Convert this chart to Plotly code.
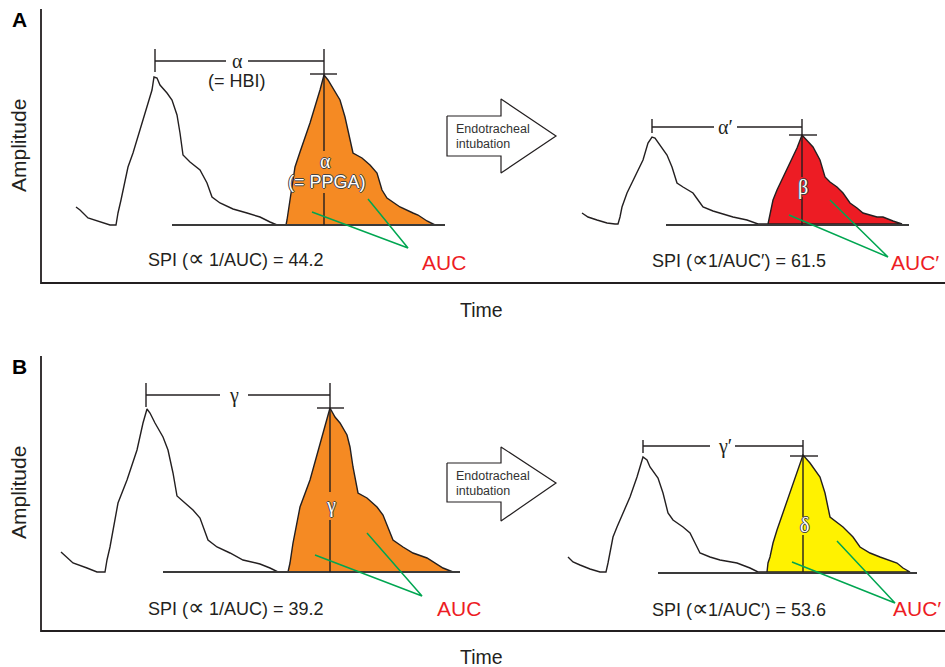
import plotly.graph_objects as go

# ---------------- data ----------------
# Panel A, before intubation: free pulse and filled pulse (time, amplitude in drawing units)
a_left_x = [76, 80, 88, 100, 110, 116, 118, 121, 128, 133, 143, 152, 154, 157, 160, 167, 172, 177, 180, 183,
            190, 200, 207, 212, 220, 233, 247, 260, 270, 277, 286]
a_left_y = [207, 210, 218, 222, 225, 225, 213, 200, 167, 153, 120, 90, 77, 78, 85, 93, 100, 115, 133, 155,
            162, 170, 183, 197, 203, 209, 213, 217, 222, 225, 225]
a_left_fx = [286, 287, 290, 295, 300, 310, 320, 324, 328, 333, 340, 345, 350, 353, 362, 370, 377, 382, 387,
             400, 413, 418, 427, 435]
a_left_fy = [225, 220, 200, 167, 152, 123, 90, 75, 80, 88, 100, 117, 140, 153, 158, 165, 173, 190, 198,
             207, 213, 215, 221, 225]

# Panel A, after intubation
a_right_x = [582, 588, 597, 607, 615, 618, 620, 622, 627, 630, 637, 643, 648, 652, 655, 660, 667, 672, 677,
             683, 693, 698, 703, 713, 720, 733, 747, 758, 768]
a_right_y = [213, 217, 220, 223, 224, 224, 217, 207, 193, 187, 173, 160, 143, 137, 138, 145, 155, 167, 183,
             187, 193, 200, 207, 211, 213, 217, 220, 224, 224]
a_right_fx = [768, 770, 773, 777, 783, 790, 797, 802, 808, 813, 820, 825, 830, 837, 843, 850, 857, 863, 877,
              883, 893, 902]
a_right_fy = [224, 213, 200, 190, 177, 163, 148, 135, 142, 147, 160, 177, 182, 187, 193, 203, 208, 213, 217,
              217, 221, 224]

# Panel B, before intubation
b_left_x = [61, 65, 73, 87, 97, 105, 107, 110, 115, 118, 127, 137, 143, 147, 150, 155, 163, 168, 173, 177,
            185, 193, 200, 208, 217, 230, 243, 260, 270, 278, 288]
b_left_y = [552, 556, 563, 568, 572, 572, 560, 547, 520, 503, 480, 450, 423, 409, 413, 423, 437, 450, 473, 496,
            503, 510, 518, 540, 547, 553, 560, 564, 568, 572, 572]
b_left_fx = [288, 290, 293, 297, 300, 310, 320, 330, 335, 340, 347, 350, 353, 358, 367, 377, 383, 388, 393,
             403, 413, 427, 433, 443, 453]
b_left_fy = [572, 563, 543, 520, 507, 480, 443, 408, 417, 423, 435, 447, 467, 493, 498, 507, 515, 527, 540,
             547, 553, 558, 562, 568, 572]

# Panel B, after intubation
b_right_x = [568, 573, 580, 590, 600, 606, 608, 610, 613, 617, 623, 630, 637, 643, 647, 650, 658, 663, 668,
             673, 683, 690, 695, 700, 710, 720, 737, 750, 758, 767]
b_right_y = [557, 562, 565, 569, 572, 572, 563, 553, 537, 527, 513, 497, 477, 457, 460, 467, 478, 493, 513,
             520, 527, 533, 543, 553, 557, 560, 563, 568, 572, 572]
b_right_fx = [767, 768, 770, 773, 777, 783, 790, 797, 803, 810, 820, 825, 830, 843, 853, 860, 870, 880, 897,
              903, 910]
b_right_fy = [572, 563, 557, 543, 530, 513, 493, 473, 455, 463, 477, 493, 517, 527, 537, 547, 553, 557, 563,
              568, 572]

spi_values = ["44.2", "61.5", "39.2", "53.6"]
interval_labels = ["α", "α′", "γ", "γ′"]
amplitude_labels = ["α", "β", "γ", "δ"]
fill_colors = ["#F58A23", "#ED1C24", "#F58A23", "#FFF200"]

# ---------------- styles ----------------
INK = "#231F20"
GREEN = "#00A651"
RED = "#ED1C24"
SANS = "Liberation Sans, Arial, Helvetica, sans-serif"
SERIF = "Liberation Serif, Times New Roman, serif"
OUTLINE = "1px 0 0 #444, -1px 0 0 #444, 0 1px 0 #444, 0 -1px 0 #444"
PROP = '<span style="font-size:23px">∝</span>'

fig = go.Figure()


def seg(x, y, color=INK, width=1.4):
    fig.add_trace(go.Scatter(x=x, y=y, mode="lines", line=dict(color=color, width=width),
                             hoverinfo="skip", showlegend=False))


def txt(x, y, s, size=18, color=INK, family=SANS, shadow=None, xanchor="center"):
    font = dict(size=size, color=color, family=family)
    if shadow:
        font["shadow"] = shadow
    fig.add_annotation(x=x, y=y, text=s, showarrow=False, font=font, xanchor=xanchor, yanchor="middle")


# axes of the two panels
for top, base in [(9, 283), (356, 631)]:
    seg([41, 41, 945], [top, base, base], width=1.8)

txt(19, 19, "<b>A</b>", size=21, color="#000")
txt(19, 366, "<b>B</b>", size=21, color="#000")
for yc in [146, 493]:
    fig.add_annotation(x=18, y=yc, text="Amplitude", showarrow=False, textangle=-90,
                       font=dict(size=21, color=INK, family=SANS))
txt(481, 310, "Time", size=19.5)
txt(481, 657, "Time", size=19.5)


def waveform(px, py, fx, fy, color, base_x0, base_x1, base_y):
    # filled pulse
    fig.add_trace(go.Scatter(x=fx + [fx[0]], y=fy + [fy[0]], mode="lines", fill="toself",
                             fillcolor=color, line=dict(color=INK, width=1.4),
                             hoverinfo="skip", showlegend=False))
    # free pulse
    seg(px, py)
    # baseline
    seg([base_x0, base_x1], [base_y, base_y], color="#3a3a3a", width=1.8)


waveform(a_left_x, a_left_y, a_left_fx, a_left_fy, fill_colors[0], 172, 445, 225)
waveform(a_right_x, a_right_y, a_right_fx, a_right_fy, fill_colors[1], 666, 909, 225)
waveform(b_left_x, b_left_y, b_left_fx, b_left_fy, fill_colors[2], 163, 460, 572)
waveform(b_right_x, b_right_y, b_right_fx, b_right_fy, fill_colors[3], 658, 917, 573)


def bracket(x0, x1, y, ytop, ybot, gap0, gap1, label, label_x, peak_y, base_y, vgap0, vgap1, amp_label,
            amp_y, tick_half):
    seg([x0, x0], [ytop, ybot])
    seg([x0, gap0], [y, y])
    seg([gap1, x1], [y, y])
    txt(label_x, y, label, size=20, family=SERIF)
    # vertical amplitude line through second peak
    seg([x1, x1], [ytop, vgap0])
    seg([x1, x1], [vgap1, base_y])
    seg([x1 - tick_half[0], x1 + tick_half[1]], [peak_y, peak_y])
    txt(x1 + 1, amp_y, amp_label, size=20, color="white", family=SERIF, shadow=OUTLINE)


bracket(155, 324, 61, 49, 72, 226, 248, interval_labels[0], 237, 74, 225, 151, 193, amplitude_labels[0], 161,
        (14, 13))
txt(327, 182, "(= PPGA)", size=18, color="white", shadow=OUTLINE)
txt(237, 81, "(= HBI)", size=18)
bracket(652, 802, 127, 119, 133, 714, 737, interval_labels[1], 725, 135, 225, 177, 197, amplitude_labels[1], 187,
        (13, 15))
bracket(146, 330, 395, 383, 407, 220, 248, interval_labels[2], 234, 408, 572, 492, 520, amplitude_labels[2], 505,
        (13, 14))
bracket(643, 803, 446, 440, 453, 710, 735, interval_labels[3], 725, 456, 572, 517, 535, amplitude_labels[3], 525,
        (13, 15))

# AUC pointers
for (p1, p2, apex, lab, lab_xy) in [
    ((312, 212), (368, 199), (408, 248), "AUC", (444, 262)),
    ((789, 215), (830, 200), (888, 257), "AUC′", (915, 262)),
    ((315, 555), (367, 533), (422, 596), "AUC", (459, 608)),
    ((792, 562), (837, 541), (895, 603), "AUC′", (917, 608)),
]:
    seg([p1[0], apex[0], p2[0]], [p1[1], apex[1], p2[1]], color=GREEN, width=1.5)
    txt(lab_xy[0], lab_xy[1], lab, size=21, color=RED)

# SPI labels
txt(236, 258, "SPI (" + PROP + " 1/AUC) = " + spi_values[0], size=18)
txt(739, 259, "SPI (" + PROP + "1/AUC′) = " + spi_values[1], size=18)
txt(236, 607, "SPI (" + PROP + " 1/AUC) = " + spi_values[2], size=18)
txt(739, 608, "SPI (" + PROP + "1/AUC′) = " + spi_values[3], size=18)

# intubation arrows
for (yt, yb, ht, hb, tip) in [(116, 156, 99, 173, 136), (463, 502, 447, 521, 483)]:
    fig.add_trace(go.Scatter(x=[447, 501, 501, 556, 501, 501, 447, 447],
                             y=[yt, yt, ht, tip, hb, yb, yb, yt], mode="lines", fill="toself",
                             fillcolor="white", line=dict(color=INK, width=1.2),
                             hoverinfo="skip", showlegend=False))
    txt(454, tip - 7, "Endotracheal", size=12.5, xanchor="left", color="#333")
    txt(454, tip + 8, "intubation", size=12.5, xanchor="left", color="#333")

fig.update_layout(
    width=945, height=667, margin=dict(l=0, r=0, t=0, b=0),
    paper_bgcolor="white", plot_bgcolor="white", showlegend=False,
    xaxis=dict(range=[0, 945], visible=False, fixedrange=True),
    yaxis=dict(range=[667, 0], visible=False, fixedrange=True),
)
fig.write_html("out.html", config={"displayModeBar": False},
               post_script="document.body.style.margin='0';document.body.style.overflow='hidden';")
